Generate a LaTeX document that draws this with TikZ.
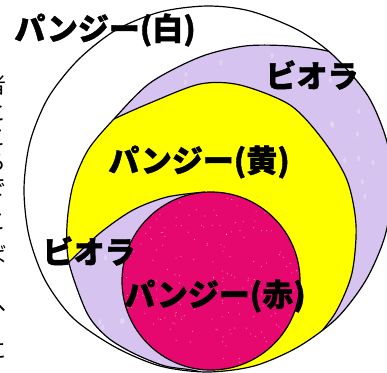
\documentclass[tikz,border=0pt]{standalone}
\usepackage{fontspec}
\newfontfamily\jp{Noto Sans CJK JP}[BoldFeatures={FakeBold=1.3}]
\newfontfamily\jpside{Noto Sans CJK JP}
\definecolor{vio}{RGB}{214,195,240}
\definecolor{yel}{RGB}{255,255,0}
\definecolor{pinkred}{RGB}{230,8,110}
\tikzset{
  lbl/.style={font=\jp\bfseries\fontsize{31}{31}\selectfont, inner sep=0pt, text=black},
  side/.style={font=\jpside\fontsize{22}{22}\selectfont, inner sep=0pt, text=black},
  edge/.style={line width=1.2pt, black},
}
\begin{document}
\begin{tikzpicture}[x=1pt,y=-1pt]
\useasboundingbox (0,0) rectangle (387,372);
\fill[white] (0,0) rectangle (387,372);
\begin{scope}
  \clip plot[smooth cycle] coordinates {(207,6) (250,11) (298,30) (334,56) (368,96) (387,142) (392,189) (385,236) (366,280) (337,318) (298,347) (254,366) (207,372) (160,366) (115,347) (73,318) (45,280) (29,236) (24,189) (30,142) (48,98) (78,60) (116,30) (160,12)};
  \begin{scope}
    \clip plot[smooth] coordinates {(365,70) (331,52) (290,46) (245,46) (200,57) (150,83) (113,120) (88,150) (73,185) (67,225) (69,263) (87,313) (107,337) (133,353) (165,366) (200,372) (235,390)} -- (235,420) -- (440,420) -- (440,0) -- (365,0) -- cycle;
    \fill[vio] (0,0) rectangle (440,420);
    \pgfmathsetseed{7}
    \foreach \i in {1,...,160}{
      \pgfmathsetmacro\px{30+370*rnd}
      \pgfmathsetmacro\py{20+360*rnd}
      \fill[white,opacity=.25] (\px,\py) ellipse[x radius=1.6pt,y radius=3pt];
    }
    \fill[yel] (85,132) -- (108,118) -- plot[smooth] coordinates {(112,120) (150,103) (200,84) (240,85) (290,105) (323,140) (347,180) (356,225) (352,273) (337,310) (318,336) (295,365) (270,395)} -- (215,400) -- (211,281) -- plot[smooth] coordinates {(205,192) (167,197) (133,210) (100,233) (69,262) (55,275)} -- (50,250) -- (52,205) -- (60,165) -- cycle;
    \draw[edge] plot[smooth] coordinates {(90,133) (112,120) (150,103) (200,84) (240,85) (290,105) (323,140) (347,180) (356,225) (352,273) (337,310) (318,336) (295,365) (270,395)};
    \draw[edge] plot[smooth] coordinates {(205,192) (167,197) (133,210) (100,233) (69,262) (55,275)};
  \end{scope}
  \fill[pinkred] (211,281) circle[radius=89pt];
  \begin{scope}
    \clip (211,281) circle[radius=89pt];
    \pgfmathsetseed{11}
    \foreach \i in {1,...,220}{
      \pgfmathsetmacro\px{120+182*rnd}
      \pgfmathsetmacro\py{190+182*rnd}
      \fill[white,opacity=.45] (\px,\py) circle[radius=0.6pt];
    }
  \end{scope}
  \draw[edge] (211,281) circle[radius=89pt];
  \draw[edge] plot[smooth] coordinates {(365,70) (331,52) (290,46) (245,46) (200,57) (150,83) (113,120) (88,150) (73,185) (67,225) (69,263) (87,313) (107,337) (133,353) (165,366) (200,372) (235,390)};
\end{scope}
\draw[edge] plot[smooth cycle] coordinates {(207,6) (250,11) (298,30) (334,56) (368,96) (387,142) (392,189) (385,236) (366,280) (337,318) (298,347) (254,366) (207,372) (160,366) (115,347) (73,318) (45,280) (29,236) (24,189) (30,142) (48,98) (78,60) (116,30) (160,12)};
\node[lbl] (white) at (105,30) {パンジー(白)};
\node[lbl] (viotop) at (312,75) {ビオラ};
\node[lbl] (yellow) at (199,162) {パンジー(黄)};
\node[lbl] (violeft) at (89,251) {ビオラ};
\node[lbl] (red) at (215,296) {パンジー(赤)};
\node[side] (s1) at (-4,85) {者};
\node[side] (s2) at (-4,112) {と};
\node[side] (s3) at (-4,138) {こ};
\node[side] (s4) at (-4,163) {ろ};
\node[side] (s5) at (-4,188) {で};
\node[side] (s6) at (-4,222) {こ};
\node[side] (s7) at (-4,255) {ば};
\node[side] (s8) at (-4,305) {へ};
\node[side] (s9) at (-4,350) {に};
\end{tikzpicture}
\end{document}
